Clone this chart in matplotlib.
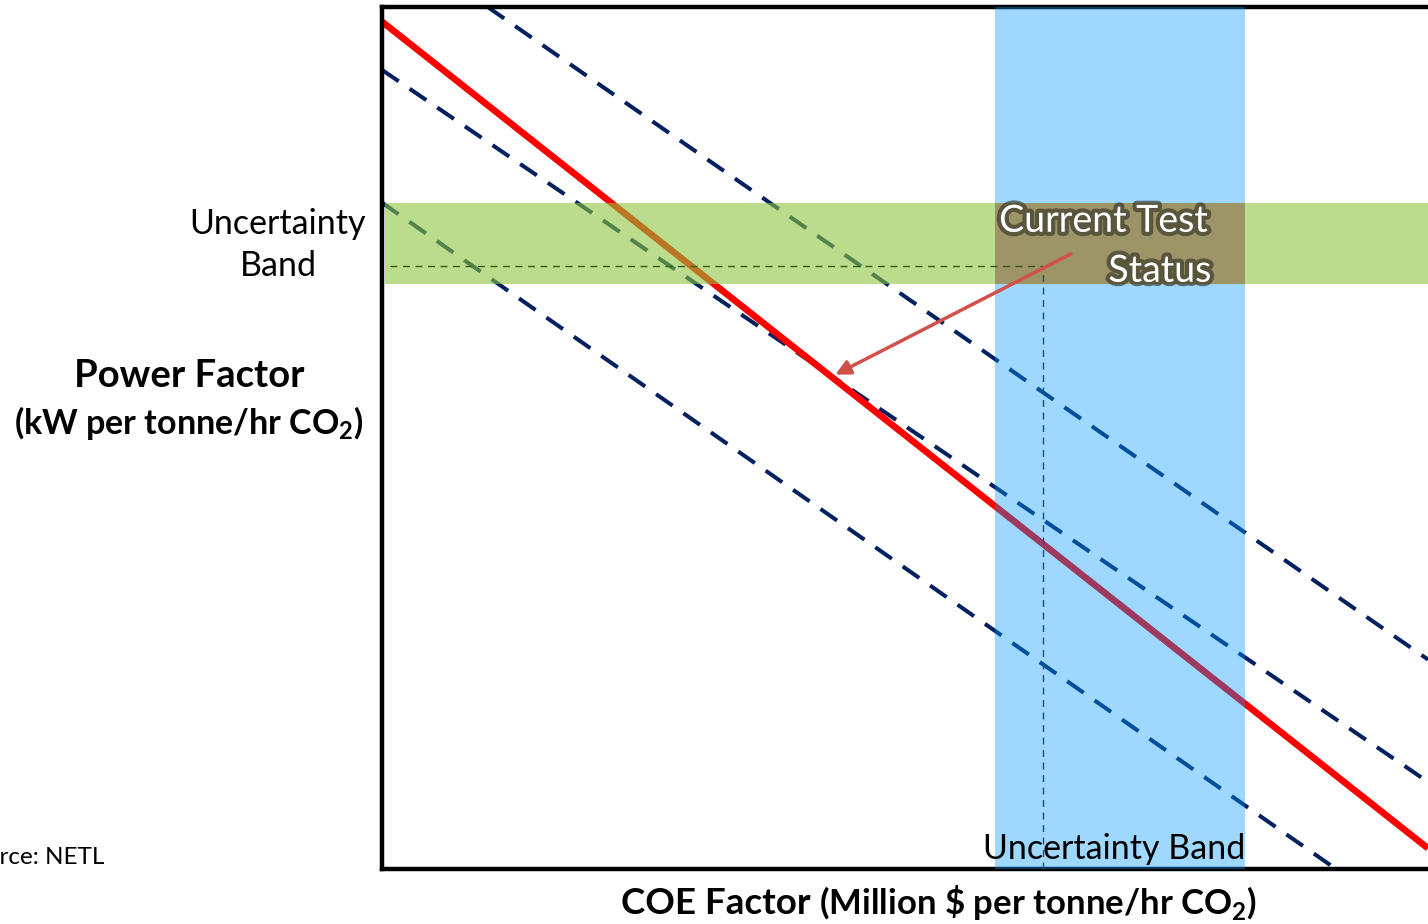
import matplotlib
matplotlib.use("Agg")
import matplotlib.pyplot as plt
import matplotlib.patheffects as pe
from matplotlib.patches import Rectangle, FancyArrowPatch

plt.rcParams['font.family'] = ['Lato', 'DejaVu Sans']
plt.rcParams['mathtext.fontset'] = 'custom'
plt.rcParams['mathtext.rm'] = 'Lato'
plt.rcParams['mathtext.bf'] = 'Lato:bold'

# Schematic data (arbitrary units, 0-100)
red_x = [0, 100]
red_y = [98.3, 2.4]
dash_a_x = [10.1, 100]
dash_a_y = [100, 24.3]
dash_b_x = [0, 100]
dash_b_y = [92.7, 10.1]
dash_c_x = [0, 91.2]
dash_c_y = [77.3, 0.0]
power_band = [67.9, 77.3]     # y range of horizontal uncertainty band
coe_band = [58.6, 82.5]       # x range of vertical uncertainty band
current_status = (63.2, 70.0)  # current test point
arrow_from = (66.1, 71.5)
arrow_to = (43.1, 57.2)

W, H = 1428, 924
fig = plt.figure(figsize=(W / 100, H / 100), dpi=100)
ax = fig.add_axes([382 / W, (924 - 869) / H, 1046 / W, 862 / H])
ax.set_xlim(0, 100)
ax.set_ylim(0, 100)
ax.set_xticks([])
ax.set_yticks([])
for s in ['left', 'top', 'bottom']:
    ax.spines[s].set_linewidth(3.2)
    ax.spines[s].set_color('black')
ax.spines['right'].set_visible(False)

navy = '#002060'
dash = (0, (5.0, 3.3))
lw_d = 2.9
ax.plot(dash_a_x, dash_a_y, color=navy, lw=lw_d, ls=dash, zorder=2)
ax.plot(dash_b_x, dash_b_y, color=navy, lw=lw_d, ls=dash, zorder=2)
ax.plot(dash_c_x, dash_c_y, color=navy, lw=lw_d, ls=dash, zorder=2)
ax.plot(red_x, red_y, color='#ff0000', lw=4.8, solid_capstyle='butt', zorder=2)

# bands
ax.axhspan(power_band[0], power_band[1], xmin=0.003, xmax=1, color='#8cc63f', alpha=0.6, lw=0, zorder=3)
ax.axvspan(coe_band[0], coe_band[1], ymin=0, ymax=1, color='#0099ff', alpha=0.38, lw=0, zorder=3)
ax.add_patch(Rectangle((coe_band[0], power_band[0]), coe_band[1] - coe_band[0],
                       power_band[1] - power_band[0], facecolor='#9d9468', lw=0, zorder=4))

# current status guide lines
ax.plot([0.8, current_status[0]], [current_status[1], current_status[1]],
        color='#3a5a10', lw=1.0, ls=(0, (5, 4)), zorder=5)
ax.plot([current_status[0], current_status[0]], [0, current_status[1]],
        color='#1f4e79', lw=1.0, ls=(0, (5, 4)), zorder=5)

# arrow
ax.add_patch(FancyArrowPatch(arrow_from, arrow_to, arrowstyle='-|>', mutation_scale=22,
                             color='#d0504a', lw=2.5, zorder=6))

glow = [pe.withStroke(linewidth=6, foreground='#3c3c2c', alpha=0.7)]
ax.text(59.0, 75.2, 'Current Test', fontsize=27, color='white',
        ha='left', va='center', zorder=7, path_effects=glow)
ax.text(79.3, 69.4, 'Status', fontsize=27, color='white', ha='right', va='center',
        zorder=7, path_effects=glow)

ax.text(82.5, 2.3, 'Uncertainty Band', fontsize=24.5, color='black', ha='right',
        va='center', zorder=7)

# outside texts
fig.text(278 / W, 1 - 245 / H, 'Uncertainty\nBand', fontsize=24.5, ha='center',
         va='center', linespacing=1.42)
fig.text(189 / W, 1 - 376 / H, 'Power Factor', fontsize=27.5, fontweight='bold',
         ha='center', va='center')
fig.text(189 / W, 1 - 423 / H, r'(kW per tonne/hr CO$_\mathbf{2}$)', fontsize=24.5,
         fontweight='bold', ha='center', va='center')
fig.text(104 / W, 1 - 858 / H, 'Source: NETL', fontsize=17.5, ha='right', va='center')

# bottom label composed of two sizes
t1 = fig.text(621 / W, 1 - 903 / H, 'COE Factor ', fontsize=26.5, fontweight='bold',
              ha='left', va='center')
fig.canvas.draw()
bb = t1.get_window_extent()
fig.text(bb.x1 / W, 1 - 903 / H, r'(Million \$ per tonne/hr CO$_\mathbf{2}$)',
         fontsize=25, fontweight='bold', ha='left', va='center')

fig.savefig('out.png', dpi=100)
